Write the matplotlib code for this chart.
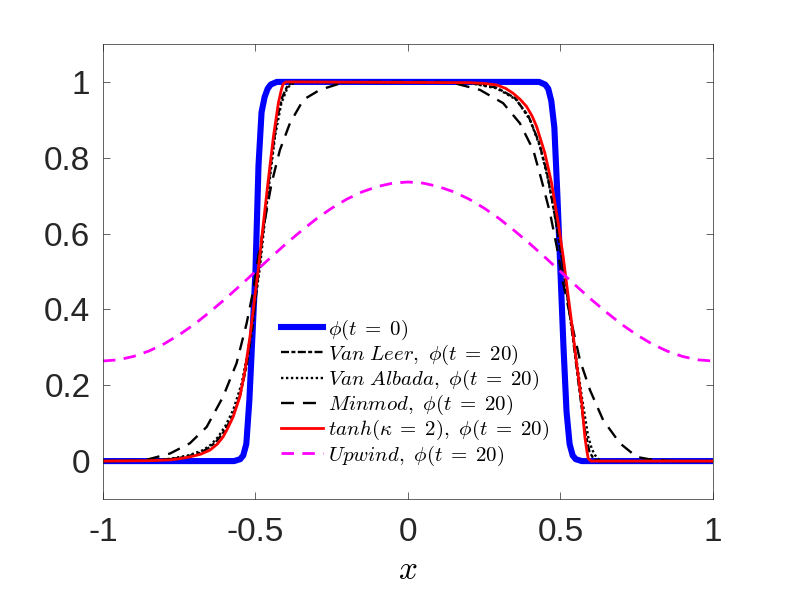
import matplotlib
matplotlib.use("Agg")
import matplotlib.pyplot as plt

plt.rcParams['mathtext.fontset'] = 'cm'
plt.rcParams['font.family'] = ['Liberation Sans', 'DejaVu Sans']

# ---- data ----
# initial condition phi(t=0)
phi0_x = [-1.0, -0.57, -0.55, -0.54, -0.53, -0.52, -0.51, -0.50, -0.49, -0.48, -0.47, -0.46, -0.45, -0.43,
          0.43, 0.45, 0.46, 0.47, 0.48, 0.49, 0.50, 0.51, 0.52, 0.53, 0.54, 0.55, 0.57, 1.0]
phi0_y = [0, 0, 0.005, 0.015, 0.045, 0.16, 0.33, 0.5, 0.78, 0.92, 0.96, 0.982, 0.993, 1.0,
          1.0, 0.993, 0.982, 0.95, 0.88, 0.7, 0.5, 0.3, 0.13, 0.045, 0.015, 0.005, 0, 0]

# Van Leer
vl_x = [-1.0, -0.85, -0.78, -0.73, -0.68, -0.655, -0.63, -0.605, -0.58, -0.565, -0.55, -0.528, -0.51,
        -0.495, -0.48, -0.463, -0.447, -0.43, -0.412, -0.395, -0.375, 0.21, 0.29, 0.35, 0.395, 0.43,
        0.456, 0.478, 0.5, 0.52, 0.54, 0.56, 0.578, 0.595, 0.61, 0.625, 1.0]
vl_y = [0, 0.001, 0.005, 0.011, 0.022, 0.034, 0.05, 0.076, 0.11, 0.14, 0.175, 0.255, 0.35,
        0.46, 0.57, 0.69, 0.80, 0.90, 0.96, 0.99, 1.0, 0.997, 0.985, 0.958, 0.91, 0.84,
        0.76, 0.665, 0.56, 0.45, 0.33, 0.2, 0.09, 0.025, 0.004, 0, 0]

# Van Albada
va_x = [-1.0, -0.85, -0.78, -0.72, -0.671, -0.645, -0.622, -0.597, -0.573, -0.545, -0.524, -0.502, -0.485,
        -0.469, -0.452, -0.436, -0.415, -0.395, -0.37, 0.203, 0.291, 0.356, 0.40, 0.433, 0.46, 0.482,
        0.504, 0.526, 0.548, 0.57, 0.591, 0.603, 0.613, 0.63, 1.0]
va_y = [0, 0.001, 0.006, 0.015, 0.029, 0.044, 0.064, 0.095, 0.135, 0.205, 0.293, 0.416, 0.513,
        0.636, 0.75, 0.856, 0.944, 0.985, 1.0, 0.997, 0.983, 0.953, 0.90, 0.829, 0.741, 0.645,
        0.539, 0.416, 0.293, 0.17, 0.064, 0.032, 0.016, 0, 0]

# Minmod
mm_x = [-1.0, -0.9, -0.85, -0.78, -0.715, -0.66, -0.606, -0.562, -0.529, -0.507, -0.491, -0.469, -0.447,
        -0.42, -0.387, -0.343, -0.289, -0.23, -0.18, 0.1, 0.16, 0.236, 0.312, 0.367, 0.411, 0.438, 0.466,
        0.488, 0.509, 0.537, 0.564, 0.597, 0.64, 0.695, 0.75, 0.79, 0.85, 0.9, 1.0]
mm_y = [0, 0.001, 0.005, 0.02, 0.047, 0.09, 0.17, 0.258, 0.363, 0.451, 0.539, 0.636, 0.733,
        0.82, 0.891, 0.953, 0.979, 0.994, 1.0, 1.0, 0.995, 0.979, 0.944, 0.891, 0.82, 0.741, 0.654,
        0.565, 0.469, 0.363, 0.266, 0.187, 0.108, 0.047, 0.011, 0.005, 0.001, 0, 0]

# tanh(kappa=2)
th_x = [-1.0, -0.85, -0.78, -0.75, -0.715, -0.68, -0.649, -0.625, -0.606, -0.59, -0.573, -0.551, -0.534,
        -0.518, -0.502, -0.491, -0.474, -0.458, -0.441, -0.425, -0.415, -0.409, -0.40, 0.203, 0.25, 0.291,
        0.32, 0.345, 0.369, 0.389, 0.407, 0.422, 0.449, 0.471, 0.493, 0.509, 0.52, 0.537, 0.553, 0.57,
        0.58, 0.586, 0.591, 0.60, 1.0]
th_y = [0, 0.001, 0.003, 0.006, 0.011, 0.018, 0.029, 0.045, 0.064, 0.088, 0.117, 0.17, 0.24,
        0.328, 0.434, 0.504, 0.627, 0.741, 0.856, 0.944, 0.98, 0.995, 1.0, 0.998, 0.996, 0.992,
        0.983, 0.97, 0.953, 0.935, 0.91, 0.882, 0.812, 0.733, 0.627, 0.539, 0.469, 0.363, 0.258, 0.152,
        0.064, 0.03, 0.007, 0, 0]

# Upwind
up_x = [-1.0, -0.95, -0.9, -0.85, -0.8, -0.75, -0.7, -0.65, -0.6, -0.55, -0.5, -0.45, -0.4, -0.35, -0.3,
        -0.25, -0.2, -0.15, -0.1, -0.05, 0.0, 0.05, 0.1, 0.15, 0.2, 0.25, 0.3, 0.35, 0.4, 0.45, 0.5,
        0.55, 0.6, 0.65, 0.7, 0.75, 0.8, 0.85, 0.9, 0.95, 1.0]
up_y = [0.264, 0.267, 0.276, 0.29, 0.309, 0.333, 0.361, 0.393, 0.427, 0.463, 0.5, 0.537, 0.573, 0.607, 0.639,
        0.667, 0.691, 0.71, 0.724, 0.733, 0.736, 0.733, 0.724, 0.71, 0.691, 0.667, 0.639, 0.607, 0.573, 0.537, 0.5,
        0.463, 0.427, 0.393, 0.361, 0.333, 0.309, 0.29, 0.276, 0.267, 0.264]

labels = [r'$\phi(t\;=\;0)$',
          r'$Van\ Leer,\ \phi(t\;=\;20)$',
          r'$Van\ Albada,\ \phi(t\;=\;20)$',
          r'$Minmod,\ \phi(t\;=\;20)$',
          r'$tanh(\kappa\;=\;2),\ \phi(t\;=\;20)$',
          r'$Upwind,\ \phi(t\;=\;20)$']

xticks = [-1, -0.5, 0, 0.5, 1]
xtick_labels = ['-1', '-0.5', '0', '0.5', '1']
yticks = [0, 0.2, 0.4, 0.6, 0.8, 1]
ytick_labels = ['0', '0.2', '0.4', '0.6', '0.8', '1']

# ---- plot ----
fig = plt.figure(figsize=(7.89, 5.92), dpi=100)
ax = fig.add_axes([0.1305, 0.1571, 0.7731, 0.7686])

ax.plot(phi0_x, phi0_y, color='#0000ff', lw=4.4, label=labels[0])
ax.plot(vl_x, vl_y, color='k', lw=1.7, ls=(0, (3.4, 1, 1.7, 1)), label=labels[1])
ax.plot(va_x, va_y, color='k', lw=1.7, ls=(0, (1, 1.1)), label=labels[2])
ax.plot(mm_x, mm_y, color='k', lw=1.7, ls=(0, (5.5, 3.8)), label=labels[3])
ax.plot(th_x, th_y, color='#ff0000', lw=2.0, label=labels[4])
ax.plot(up_x, up_y, color='#ff00ff', lw=2.0, ls=(0, (4.5, 3)), label=labels[5])

ax.set_xlim(-1, 1)
ax.set_ylim(-0.1, 1.1)
ax.set_xticks(xticks)
ax.set_xticklabels(xtick_labels)
ax.set_yticks(yticks)
ax.set_yticklabels(ytick_labels)
ax.tick_params(direction='in', length=5, width=0.5, colors='#262626', labelsize=24,
               top=True, right=True)
ax.tick_params(axis='x', pad=13)
ax.tick_params(axis='y', pad=9)
for s in ax.spines.values():
    s.set_color('#262626')
    s.set_linewidth(0.5)

ax.set_xlabel(r'$x$', fontsize=24, labelpad=5)

ax.legend(loc='center left', bbox_to_anchor=(0.292, 0.234), frameon=False,
          fontsize=15, handlelength=2.0, handletextpad=0.25, labelspacing=0.05,
          borderpad=0, borderaxespad=0)

plt.savefig('out.png', dpi=100)
